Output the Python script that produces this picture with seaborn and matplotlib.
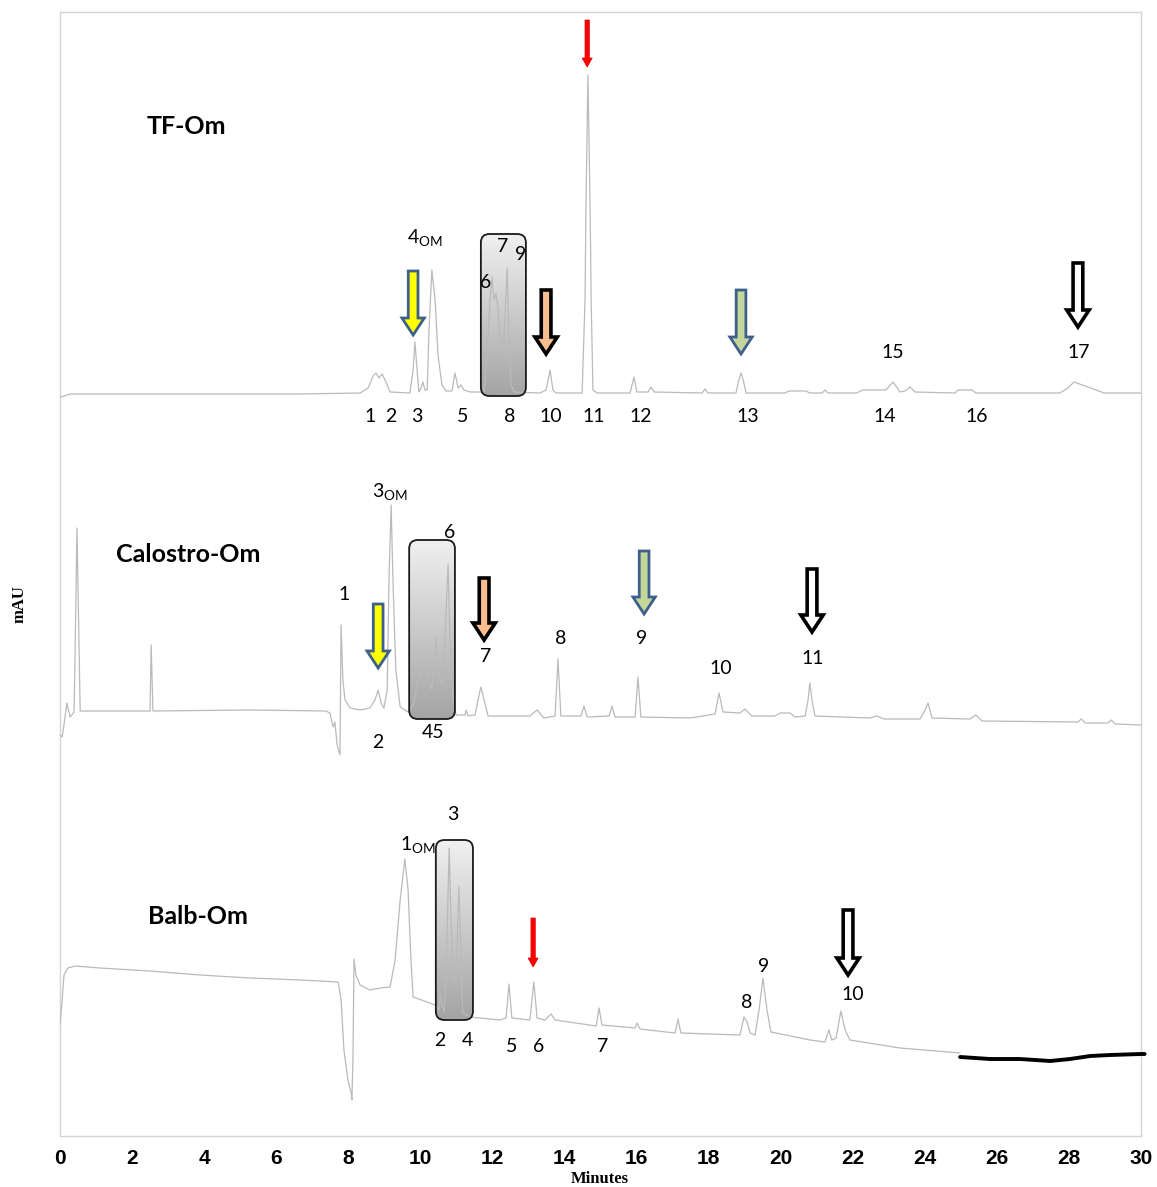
import numpy as np
import pandas as pd
import matplotlib
matplotlib.use("Agg")
import matplotlib.pyplot as plt
import seaborn as sns
from matplotlib.patches import FancyArrow, FancyBboxPatch
from matplotlib.colors import LinearSegmentedColormap
from matplotlib import font_manager as fm

# ---------------- data (minutes, mAU) ----------------
tf_time = [0.00, 0.11, 0.28, 6.66, 8.33, 8.55, 8.69, 8.77, 8.85, 8.94, 9.02, 9.16, 9.71, 9.80, 9.85, 9.91,
           9.96, 10.02, 10.07, 10.13, 10.19, 10.24, 10.32, 10.41, 10.49, 10.60, 10.71, 10.88, 10.96, 11.05,
           11.13, 11.21, 11.38, 11.77, 11.88, 11.93, 11.99, 12.04, 12.10, 12.16, 12.21, 12.27, 12.32, 12.41,
           12.46, 12.52, 12.60, 13.32, 13.49, 13.60, 13.68, 13.77, 14.49, 14.57, 14.60, 14.65, 14.71, 14.74,
           14.79, 14.90, 15.82, 15.93, 16.01, 16.32, 16.40, 16.49, 17.82, 17.90, 17.98, 18.76, 18.84, 18.90,
           18.96, 19.04, 20.12, 20.23, 20.70, 20.81, 21.15, 21.23, 21.31, 22.12, 22.26, 22.65, 22.92, 23.12,
           23.31, 23.45, 23.59, 23.73, 24.84, 24.92, 25.31, 25.42, 27.75, 27.84, 27.97, 28.14, 28.45, 28.83,
           28.97, 30.00]
tf_mau = [739, 740, 742, 742, 743, 748, 760, 763, 758, 762, 756, 744, 743, 766, 794, 766,
          744, 748, 754, 746, 746, 806, 866, 836, 781, 751, 745, 745, 763, 748,
          751, 746, 744, 744, 796, 836, 859, 836, 843, 826, 801, 786, 796, 868,
          796, 751, 744, 743, 746, 766, 746, 743, 743, 836, 936, 1061, 936, 836,
          746, 743, 743, 759, 744, 744, 749, 744, 743, 747, 743, 743, 756, 763,
          756, 743, 743, 745, 745, 743, 743, 746, 743, 743, 746, 746, 746, 754,
          744, 745, 749, 744, 743, 746, 746, 743, 743, 745, 748, 754, 750, 745,
          743, 743]

calo_time = [0.00, 0.06, 0.11, 0.19, 0.28, 0.39, 0.42, 0.47, 0.53, 0.56, 2.50, 2.53, 2.58, 5.27, 7.38,
             7.49, 7.58, 7.63, 7.69, 7.77, 7.80, 7.85, 7.91, 8.05, 8.33, 8.60, 8.74, 8.83, 8.91, 8.99,
             9.08, 9.13, 9.19, 9.24, 9.32, 9.44, 9.66, 9.80, 9.94, 10.13, 10.24, 10.32, 10.38, 10.43,
             10.49, 10.57, 10.63, 10.68, 10.77, 10.82, 10.91, 10.99, 11.24, 11.27, 11.32, 11.52, 11.60,
             11.68, 11.77, 11.88, 13.04, 13.24, 13.43, 13.74, 13.82, 13.90, 14.46, 14.54, 14.63, 15.24,
             15.32, 15.40, 15.96, 16.04, 16.12, 17.48, 18.18, 18.29, 18.40, 18.87, 19.01, 19.20, 19.84,
             19.98, 20.26, 20.40, 20.68, 20.76, 20.81, 20.87, 20.95, 22.48, 22.67, 22.87, 23.87, 23.98,
             24.09, 24.20, 25.25, 25.42, 25.59, 28.25, 28.34, 28.45, 29.08, 29.17, 29.28, 30.00]
calo_mau = [401, 399, 411, 433, 419, 424, 486, 608, 486, 425, 425, 491, 425, 426, 425,
            423, 409, 414, 391, 381, 511, 456, 436, 428, 426, 428, 436, 446, 433, 428,
            446, 556, 631, 556, 466, 429, 424, 431, 456, 476, 456, 446, 476, 499,
            471, 453, 453, 496, 571, 496, 436, 421, 421, 426, 420, 421, 436,
            449, 436, 420, 420, 426, 418, 420, 477, 420, 420, 430, 419, 420,
            430, 419, 419, 459, 419, 418, 422, 443, 424, 423, 427, 420, 420,
            423, 423, 419, 420, 436, 453, 436, 420, 418, 420, 417, 417, 424,
            433, 418, 417, 421, 415, 414, 417, 413, 413, 416, 412, 411]

balb_time = [0.00, 0.06, 0.11, 0.22, 0.42, 1.11, 2.50, 3.89, 5.27, 6.66, 7.72, 7.80, 7.88, 7.99, 8.08,
             8.10, 8.13, 8.16, 8.21, 8.33, 8.60, 8.88, 9.16, 9.30, 9.44, 9.57, 9.66, 9.74, 9.80, 10.19,
             10.41, 10.52, 10.55, 10.60, 10.66, 10.71, 10.80, 10.85, 10.93, 10.99, 11.07, 11.13, 11.18,
             11.38, 12.21, 12.38, 12.46, 12.54, 13.04, 13.15, 13.24, 13.46, 13.63, 13.74, 14.88, 14.96,
             15.04, 15.96, 16.01, 16.10, 17.07, 17.15, 17.23, 18.87, 18.98, 19.07, 19.15, 19.29, 19.40,
             19.51, 19.62, 19.73, 20.81, 21.23, 21.34, 21.42, 21.54, 21.67, 21.79, 21.92, 23.31, 24.98]
balb_mau = [111, 136, 161, 168, 170, 168, 165, 161, 158, 156, 154, 136, 86, 56, 43,
            36, 76, 177, 161, 151, 146, 148, 149, 176, 236, 277, 246, 176, 139, 134,
            131, 126, 144, 131, 124, 156, 288, 216, 153, 161, 249, 176, 123,
            119, 116, 118, 152, 118, 116, 154, 118, 116, 122, 116, 110, 128,
            111, 108, 113, 107, 103, 117, 103, 101, 119, 114, 103, 101, 126,
            158, 126, 104, 96, 94, 106, 96, 98, 125, 106, 96, 88, 83]

balb_tail_time = [24.98, 25.81, 26.64, 27.48, 28.03, 28.59, 29.14, 30.00, 30.10]
balb_tail_mau = [79, 77, 77, 75, 77, 80, 81, 82, 82]

# peak labels: (text, minutes, mAU)
tf_labels = [("1", 8.60, 719), ("2", 9.19, 719), ("3", 9.91, 719), ("5", 11.18, 719), ("8", 12.49, 719),
             ("10", 13.63, 719), ("11", 14.82, 719), ("12", 16.12, 719), ("13", 19.09, 719),
             ("14", 22.90, 719), ("16", 25.45, 719), ("15", 23.12, 783), ("17", 28.28, 783),
             ("7", 12.27, 890), ("9", 12.77, 882), ("6", 11.80, 854)]
calo_labels = [("1", 7.88, 541), ("2", 8.83, 394), ("6", 10.82, 603), ("45", 10.35, 404),
               ("7", 11.80, 480), ("8", 13.90, 498), ("9", 16.15, 498), ("10", 18.34, 467),
               ("11", 20.90, 477)]
balb_labels = [("3", 10.91, 321), ("2", 10.55, 96), ("4", 11.30, 96), ("5", 12.52, 89), ("6", 13.27, 89),
               ("7", 15.07, 89), ("8", 19.07, 133), ("9", 19.54, 169), ("10", 22.01, 141)]
om_labels = [("4", 10.13, 898), ("3", 9.16, 644), ("1", 9.94, 291)]
sample_names = [("TF-Om", 3.50, 1009), ("Calostro-Om", 3.55, 582), ("Balb-Om", 3.83, 219)]

# arrows: (kind, minutes, top mAU, tip mAU)
arrows = [("yellow", 9.80, 865, 801), ("orange", 13.49, 846, 782), ("green", 18.90, 846, 782),
          ("white", 28.25, 873, 809), ("red", 14.63, 1116, 1069),
          ("yellow", 8.83, 532, 468), ("orange", 11.77, 558, 496), ("green", 16.21, 585, 522),
          ("white", 20.87, 567, 504),
          ("red", 13.13, 218, 169), ("white", 21.87, 226, 161)]

# highlight boxes: (t0, t1, mAU0, mAU1)
boxes = [(11.68, 12.93, 740, 902), (9.69, 10.96, 417, 596), (10.43, 11.46, 116, 296)]

xticks = list(range(0, 31, 2))

# ---------------- style ----------------
sns.set_style("white")
names = {f.name for f in fm.fontManager.ttflist}
label_font = ["Lato", "DejaVu Sans"]
tick_font = ["Liberation Sans Narrow", "Liberation Sans", "DejaVu Sans"] if "Liberation Sans Narrow" in names \
    else ["Liberation Sans", "DejaVu Sans"]
serif_font = ["Liberation Serif", "DejaVu Serif"]
plt.rcParams["font.family"] = label_font
plt.rcParams["text.color"] = "black"
plt.rcParams["xtick.color"] = "black"

fig = plt.figure(figsize=(11.57, 11.87), dpi=100)
ax = fig.add_axes([60 / 1157, 1 - 1136 / 1187, (1141 - 60) / 1157, (1136 - 12) / 1187])

trace_col = "#bababa"
for t, v in [(tf_time, tf_mau), (calo_time, calo_mau), (balb_time, balb_mau)]:
    df = pd.DataFrame({"Minutes": t, "mAU": v})
    sns.lineplot(data=df, x="Minutes", y="mAU", ax=ax, color=trace_col, lw=0.9,
                 estimator=None, sort=False, zorder=3)
df_tail = pd.DataFrame({"Minutes": balb_tail_time, "mAU": balb_tail_mau})
sns.lineplot(data=df_tail, x="Minutes", y="mAU", ax=ax, color="black", lw=2.8,
             estimator=None, sort=False, zorder=3, clip_on=False)

ax.set_xlim(0, 30)
ax.set_ylim(0, 1124)

# aspect: px per minute vs px per mAU
asp = (1141 - 60) / 30.0

# boxes with vertical gradient (light at top, darker at bottom)
grad = np.linspace(0, 1, 256).reshape(-1, 1)
gcmap = LinearSegmentedColormap.from_list("g", ["#a4a4a4", "#f0f0f0"])
for (t0, t1, y0, y1) in boxes:
    patch = FancyBboxPatch((t0, y0), t1 - t0, y1 - y0,
                           boxstyle="round,pad=0,rounding_size=0.24",
                           mutation_aspect=asp, facecolor="none", edgecolor="#1a1a1a",
                           lw=1.3, zorder=4)
    ax.add_patch(patch)
    im = ax.imshow(grad, extent=(t0, t1, y0, y1), cmap=gcmap, aspect="auto", zorder=2,
                   origin="lower")
    im.set_clip_path(patch)
ax.set_xlim(0, 30)
ax.set_ylim(0, 1124)

# arrows
styles = {
    "yellow": dict(fc="#ffff00", ec="#3e5f8a", lw=2.0, w=0.27, hw=0.62, hl=17),
    "orange": dict(fc="#f9be8f", ec="black", lw=2.6, w=0.27, hw=0.62, hl=17),
    "green": dict(fc="#c3d69b", ec="#3e5f8a", lw=2.0, w=0.27, hw=0.62, hl=17),
    "white": dict(fc="white", ec="black", lw=2.6, w=0.27, hw=0.62, hl=17),
    "red": dict(fc="#ff0000", ec="#dd0000", lw=0.5, w=0.12, hw=0.28, hl=9),
}
for kind, x, top, tip in arrows:
    s = styles[kind]
    arr = FancyArrow(x, top, 0, tip - top, width=s["w"], head_width=s["hw"], head_length=s["hl"],
                     length_includes_head=True, fc=s["fc"], ec=s["ec"], lw=s["lw"], zorder=5,
                     joinstyle="miter")
    ax.add_patch(arr)

# labels
for lst in (tf_labels, calo_labels, balb_labels):
    for txt, x, y in lst:
        ax.text(x, y, txt, ha="center", va="center", fontsize=14, family=label_font,
                color="black", zorder=6)
for txt, x, y in om_labels:
    ax.text(x, y, txt + r"$_{\mathregular{OM}}$", ha="center", va="center", fontsize=14,
            family=label_font, color="black", zorder=6)
for txt, x, y in sample_names:
    ax.text(x, y, txt, ha="center", va="center", fontsize=18, fontweight="bold",
            family=label_font, color="black", zorder=6)

# axes styling
for sp in ax.spines.values():
    sp.set_color("#d4d4d4")
    sp.set_linewidth(1.0)
ax.set_xticks(xticks)
ax.set_xticks(np.arange(0, 30.01, 0.25), minor=True)
ax.set_yticks([])
ax.tick_params(axis="x", which="major", direction="in", length=4, color="#c8c8c8",
               labelcolor="black", pad=9)
ax.tick_params(axis="x", which="minor", direction="in", length=2.5, color="#d0d0d0")
for lab in ax.get_xticklabels():
    lab.set_fontfamily(tick_font)
    lab.set_fontweight("bold")
    lab.set_fontsize(15)
    lab.set_color("black")
ax.set_xlabel("")
ax.set_ylabel("")
fig.text(600 / 1157, 1 - 1179 / 1187, "Minutes", ha="center", va="center", fontsize=12,
         fontweight="bold", family=serif_font, color="black")
fig.text(20 / 1157, 1 - 604 / 1187, "mAU", ha="center", va="center", fontsize=12,
         fontweight="bold", family=serif_font, rotation=90, color="black")

fig.savefig("out.png", dpi=100)
